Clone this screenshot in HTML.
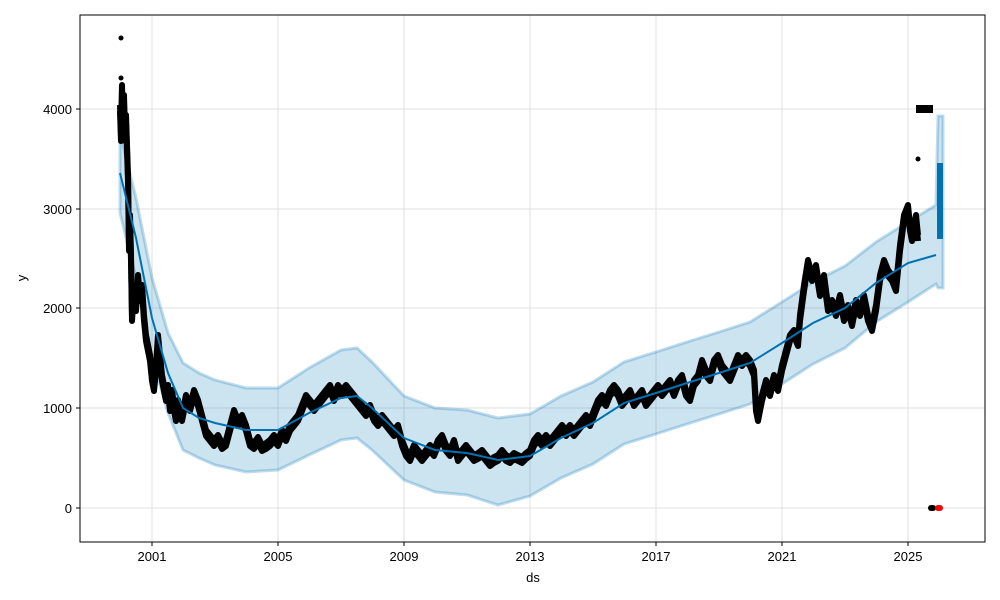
<!DOCTYPE html>
<html><head><meta charset="utf-8"><style>
html,body{margin:0;padding:0;background:#fff;}
svg{display:block;font-family:"Liberation Sans","DejaVu Sans",sans-serif;}
</style></head><body>
<svg width="1000" height="600" viewBox="0 0 1000 600" xmlns="http://www.w3.org/2000/svg">
<defs>
<polyline id="d" fill="none" stroke="#000" stroke-width="6" stroke-linejoin="round" points="120,108 121,138 122,88 123,128 124,98 125,138 126,118 127,148 128,178 129,248 130,218 131,258 132,318 134,288 136,308 138,278 140,298 142,288 144,318 146,338 148,348 150,358 152,378 154,388 156,368 158,338 160,358 162,378 164,388 166,398 168,388 170,408 172,393 174,408 176,418 178,403 180,413 182,418 186,398 190,408 194,393 198,403 202,418 206,433 210,438 214,443 218,438 222,446 226,443 230,428 234,413 238,423 242,418 246,428 250,443 254,446 258,440 262,448 266,446 270,443 274,438 278,443 282,433 286,438 290,428 294,423 298,418 302,408 306,398 310,403 314,408 318,403 322,398 326,393 330,388 334,398 338,388 342,393 346,388 350,393 354,398 358,403 362,408 366,413 370,408 374,418 378,423 382,418 386,423 390,428 394,433 398,428 402,443 406,453 410,458 414,448 418,453 422,458 426,453 430,448 434,453 438,443 442,438 446,448 450,453 454,443 458,458 462,453 466,448 470,453 474,458 478,456 482,453 486,458 490,463 494,460 498,458 502,453 506,458 510,460 514,456 518,458 522,460 526,456 530,453 534,443 538,438 542,443 546,438 550,443 554,438 558,433 562,428 566,433 570,428 574,433 578,428 582,423 586,418 590,423 594,413 598,403 602,398 606,403 610,393 614,388 618,393 622,403 626,398 630,393 634,403 638,398 642,393 646,403 650,398 654,393 658,388 662,393 666,388 670,383 674,393 678,383 682,378 686,393 690,398 694,383 698,378 702,363 706,373 710,378 714,363 718,358 722,368 726,373 730,378 734,368 738,358 742,363 746,358 750,363 754,373 756,408 758,418 762,398 766,383 770,393 774,378 778,388 782,368 786,353 790,338 794,333 798,343 800,318 804,288 808,263 812,278 816,268 820,293 824,278 828,308 832,303 836,313 840,298 844,318 848,308 852,323 856,303 860,313 864,298 868,318 872,328 876,308 880,278 884,263 888,273 892,278 896,288 900,248 904,218 908,208 910,228 912,238 916,218 918,238"/>
</defs>
<rect x="0" y="0" width="1000" height="600" fill="#fff"/>
<g stroke="#e0e0e0" stroke-width="1">
<line x1="152" y1="15" x2="152" y2="542"/><line x1="278" y1="15" x2="278" y2="542"/><line x1="404" y1="15" x2="404" y2="542"/><line x1="530" y1="15" x2="530" y2="542"/><line x1="656" y1="15" x2="656" y2="542"/><line x1="782" y1="15" x2="782" y2="542"/><line x1="908" y1="15" x2="908" y2="542"/>
<line x1="80" y1="508" x2="985" y2="508"/><line x1="80" y1="408" x2="985" y2="408"/><line x1="80" y1="308" x2="985" y2="308"/><line x1="80" y1="209" x2="985" y2="209"/><line x1="80" y1="109" x2="985" y2="109"/>
</g>
<polygon fill="#0072B2" fill-opacity="0.2" stroke="#0072B2" stroke-opacity="0.25" stroke-width="3" points="120,133 136,198 152,278 168,333 183,363 199,373 215,380 246,388 278,388 309,368 341,350 357,348 372,362 404,396 435,408 467,410 498,418 530,414 561,396 593,382 624,362 656,352 687,342 719,332 750,322 782,302 813,282 845,266 876,242 908,222 936,205 938,116 943,116 943,288 938,288 936,284 908,302 876,322 845,348 813,364 782,384 750,404 719,414 687,424 656,434 624,444 593,464 561,478 530,496 498,505 467,495 435,492 404,480 372,450 357,438 341,440 309,455 278,470 246,472 215,465 199,458 183,450 168,413 152,358 136,278 120,213"/>
<use href="#d" transform="translate(0,-3)"/>
<use href="#d" transform="translate(0,3)"/>
<g fill="#000">
<circle cx="121" cy="38" r="2.5"/><circle cx="121" cy="78" r="2.5"/><circle cx="918" cy="159" r="2.5"/>
<rect x="916" y="105" width="17" height="8"/>
<rect x="928" y="505" width="8" height="6" rx="3"/>
</g>
<rect x="935" y="505" width="8" height="6" rx="3" fill="#ff0000"/>
<polyline fill="none" stroke="#0072B2" stroke-width="2" points="120,173 136,238 152,318 168,373 183,408 199,418 215,423 246,430 278,430 309,413 341,398 357,396 372,408 404,438 435,450 467,453 498,460 530,456 561,438 593,423 624,403 656,393 687,383 719,373 750,363 782,343 813,323 845,308 876,283 908,263 936,255"/>
<rect x="937" y="163" width="6" height="76" fill="#0072B2"/>
<rect x="80" y="15" width="905" height="527" fill="none" stroke="#000" stroke-width="1"/>
<g stroke="#000">
<line x1="152" y1="542" x2="152" y2="546"/><line x1="278" y1="542" x2="278" y2="546"/><line x1="404" y1="542" x2="404" y2="546"/><line x1="530" y1="542" x2="530" y2="546"/><line x1="656" y1="542" x2="656" y2="546"/><line x1="782" y1="542" x2="782" y2="546"/><line x1="908" y1="542" x2="908" y2="546"/>
<line x1="76" y1="508" x2="80" y2="508"/><line x1="76" y1="408" x2="80" y2="408"/><line x1="76" y1="308" x2="80" y2="308"/><line x1="76" y1="209" x2="80" y2="209"/><line x1="76" y1="109" x2="80" y2="109"/>
</g>
<g font-size="13" fill="#000" text-anchor="middle">
<text x="152" y="561">2001</text><text x="278" y="561">2005</text><text x="404" y="561">2009</text><text x="530" y="561">2013</text><text x="656" y="561">2017</text><text x="782" y="561">2021</text><text x="908" y="561">2025</text>
<text x="533" y="582">ds</text>
</g>
<g font-size="13" fill="#000" text-anchor="end">
<text x="72" y="513">0</text><text x="72" y="413">1000</text><text x="72" y="313">2000</text><text x="72" y="214">3000</text><text x="72" y="114">4000</text>
</g>
<text x="26" y="278" font-size="13" text-anchor="middle" transform="rotate(-90 26 278)">y</text>
</svg>
</body></html>
